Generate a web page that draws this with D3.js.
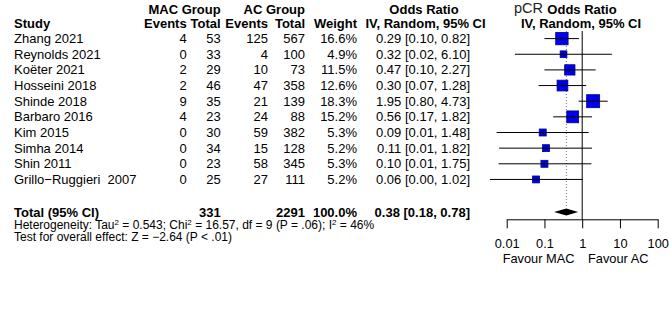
<!DOCTYPE html>
<html>
<head>
<meta charset="utf-8">
<script src="https://cdn.jsdelivr.net/npm/d3@7"></script>
<style>
  body { margin: 0; background: white; }
  text { font-family: "Liberation Sans", Arial, Helvetica, sans-serif; fill: black; white-space: pre; }
</style>
</head>
<body>
<script>
// study data
const studies = ["Zhang 2021", "Reynolds 2021", "Koëter 2021", "Hosseini 2018", "Shinde 2018",
    "Barbaro 2016", "Kim 2015", "Simha 2014", "Shin 2011", "Grillo\u2212Ruggieri  2007"];
const macEvents = [4, 0, 2, 2, 9, 4, 0, 0, 0, 0];
const macTotal = [53, 33, 29, 46, 35, 23, 30, 34, 23, 25];
const acEvents = [125, 4, 10, 47, 21, 24, 59, 15, 58, 27];
const acTotal = [567, 100, 73, 358, 139, 88, 382, 128, 345, 111];
const weights = [16.6, 4.9, 11.5, 12.6, 18.3, 15.2, 5.3, 5.2, 5.3, 5.2];
const oddsRatio = [0.29, 0.32, 0.47, 0.30, 1.95, 0.56, 0.09, 0.11, 0.10, 0.06];
const ciLow = [0.10, 0.0165, 0.10, 0.07, 0.80, 0.17, 0.0054, 0.0063, 0.0061, 0.0036];
const ciHigh = [0.82, 6.10, 2.27, 1.28, 4.73, 1.82, 1.48, 1.82, 1.75, 1.02];

// pooled estimate
const pooled = { or: 0.38, low: 0.18, high: 0.78, macTotal: 331, acTotal: 2291, weight: 100.0 };
const axisTicks = [0.01, 0.1, 1, 10, 100];

window.onload = main;

function main() {
    const W = 669, H = 327;
    const fs = 13;

    const svg = d3.select("body").append("svg")
        .attr("width", W)
        .attr("height", H);
    svg.append("rect").attr("width", W).attr("height", H).attr("fill", "white");

    // columns (right edges unless noted)
    const col = { study: 14, macEv: 186.7, macTot: 220.7, acEv: 268, acTot: 305, weight: 357, or: 470, orCenter: 424 };

    const x = d3.scaleLog().domain([0.01, 100]).range([506.7, 657.7]);
    const rowY = i => 38.6 + i * 15.65;   // row centre
    const base = 4.4;                      // centre -> text baseline

    const txt = (xp, yp, s, anchor, bold, size) => svg.append("text")
        .attr("x", xp).attr("y", yp)
        .attr("text-anchor", anchor || "start")
        .style("font-size", (size || fs) + "px")
        .style("font-weight", bold ? "bold" : "normal")
        .text(s);

    // Headers
    txt(col.macTot, 13.5, "MAC Group", "end", true);
    txt(col.acTot, 13.5, "AC Group", "end", true);
    txt(col.orCenter, 13.5, "Odds Ratio", "middle", true);
    txt(col.study, 28.3, "Study", "start", true);
    txt(col.macEv, 28.3, "Events", "end", true);
    txt(col.macTot, 28.3, "Total", "end", true);
    txt(col.acEv, 28.3, "Events", "end", true);
    txt(col.acTot, 28.3, "Total", "end", true);
    txt(col.weight, 28.3, "Weight", "end", true);
    txt(col.orCenter + 1.5, 28.3, "IV, Random, 95% CI", "middle", true);

    txt(543, 12.5, "pCR", "end", false, 14.5).style("fill", "#222");
    txt(582, 13.5, "Odds Ratio", "middle", true);
    txt(581, 28.3, "IV, Random, 95% CI", "middle", true);

    // Study rows
    studies.forEach((s, i) => {
        const yb = rowY(i) + base;
        txt(col.study, yb, s);
        txt(col.macEv, yb, macEvents[i], "end");
        txt(col.macTot, yb, macTotal[i], "end");
        txt(col.acEv, yb, acEvents[i], "end");
        txt(col.acTot, yb, acTotal[i], "end");
        txt(col.weight, yb, weights[i].toFixed(1) + "%", "end");
        txt(col.or, yb, `${oddsRatio[i].toFixed(2)} [${ciLow[i].toFixed(2)}, ${ciHigh[i].toFixed(2)}]`, "end");
    });

    // Total row
    const totalY = 212;
    const totalB = 216.5;
    txt(col.study, totalB, "Total (95% CI)", "start", true);
    txt(col.macTot, totalB, pooled.macTotal, "end", true);
    txt(col.acTot, totalB, pooled.acTotal, "end", true);
    txt(col.weight, totalB, pooled.weight.toFixed(1) + "%", "end", true);
    txt(col.or, totalB, `${pooled.or.toFixed(2)} [${pooled.low.toFixed(2)}, ${pooled.high.toFixed(2)}]`, "end", true);

    // Heterogeneity lines
    const fsSmall = 12;
    const het = svg.append("text").attr("x", col.study).attr("y", 229).style("font-size", fsSmall + "px");
    const sup = t => het.append("tspan").attr("dy", -4.5).style("font-size", "8px").text(t);
    const norm = t => het.append("tspan").attr("dy", 4.5).text(t);
    het.append("tspan").text("Heterogeneity: Tau");
    sup("2"); norm(" = 0.543; Chi");
    sup("2"); norm(" = 16.57, df = 9 (P = .06); I");
    sup("2"); norm(" = 46%");
    txt(col.study, 241, "Test for overall effect: Z = \u22122.64 (P < .01)", "start", false, fsSmall);

    // Forest plot reference lines
    const topY = 31, axisY = 219.3;
    svg.append("line")
        .attr("x1", x(1)).attr("x2", x(1))
        .attr("y1", topY).attr("y2", axisY)
        .attr("stroke", "black").attr("stroke-width", 1);
    svg.append("line")
        .attr("x1", x(pooled.or)).attr("x2", x(pooled.or))
        .attr("y1", topY).attr("y2", totalY - 4)
        .attr("stroke", "#555").attr("stroke-width", 0.8)
        .attr("stroke-dasharray", "1,2");

    // squares sized by weight
    const side = d3.scaleSqrt().domain([0, d3.max(weights)]).range([0, 13]);

    studies.forEach((s, i) => {
        const yc = rowY(i);
        const sz = side(weights[i]);
        svg.append("rect")
            .attr("x", x(oddsRatio[i]) - sz / 2)
            .attr("y", yc - sz / 2)
            .attr("width", sz).attr("height", sz)
            .attr("fill", "#0000f0")
            .attr("stroke", "#00008b")
            .attr("stroke-width", 0.8);
        svg.append("line")
            .attr("x1", x(ciLow[i])).attr("x2", x(ciHigh[i]))
            .attr("y1", yc).attr("y2", yc)
            .attr("stroke", "black").attr("stroke-width", 1);
        svg.append("line")
            .attr("x1", x(oddsRatio[i])).attr("x2", x(oddsRatio[i]))
            .attr("y1", yc - 2).attr("y2", yc + 2)
            .attr("stroke", "black").attr("stroke-width", 0.6);
    });

    // pooled diamond
    const dh = 3.6;
    svg.append("path")
        .attr("d", `M${x(pooled.low)},${totalY} L${x(pooled.or)},${totalY - dh} L${x(pooled.high)},${totalY} L${x(pooled.or)},${totalY + dh} Z`)
        .attr("fill", "black");

    // Axis
    const axis = svg.append("g")
        .attr("transform", `translate(0,${axisY})`)
        .call(d3.axisBottom(x)
            .tickValues(axisTicks)
            .tickFormat(d => String(d))
            .tickSize(9)
            .tickSizeOuter(0)
            .tickPadding(11));
    axis.select(".domain").attr("stroke", "black");
    axis.selectAll("line").attr("stroke", "black");
    axis.selectAll("text")
        .style("font-size", "12.8px")
        .style("font-family", "'Liberation Sans', Arial, sans-serif");

    txt(574.5, 263, "Favour MAC", "end", false, 12.8);
    txt(588, 263, "Favour AC", "start", false, 12.8);
}
</script>
</body>
</html>
